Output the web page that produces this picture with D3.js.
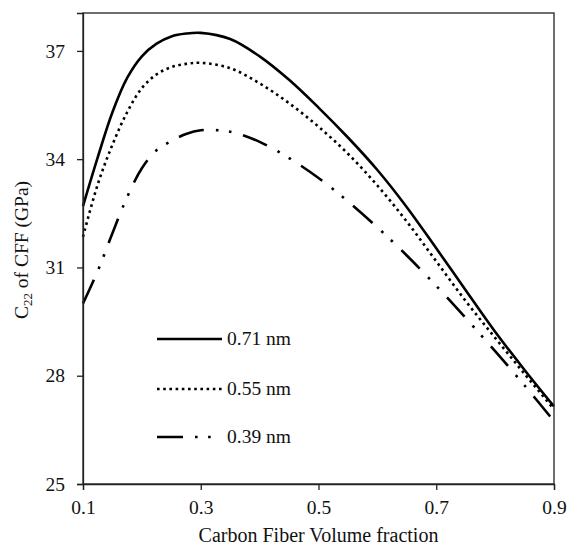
<!DOCTYPE html>
<html><head><meta charset="utf-8">
<script src="https://cdn.jsdelivr.net/npm/d3@7"></script>
<style>body{margin:0;background:#fff}svg{display:block}text{font-family:"Liberation Serif","Times New Roman",serif;fill:#111}</style>
</head><body>
<script>
const fractions = [0.1,0.125,0.15,0.175,0.2,0.225,0.25,0.275,0.3,0.35,0.4,0.45,0.5,0.55,0.6,0.65,0.7,0.75,0.8,0.85,0.9];
const c22_071 = [32.7,34.05,35.3,36.25,36.85,37.2,37.4,37.48,37.5,37.33,36.85,36.2,35.43,34.6,33.7,32.67,31.53,30.37,29.22,28.16,27.15];
const c22_055 = [31.85,33.3,34.4,35.3,35.97,36.35,36.55,36.64,36.67,36.52,36.1,35.55,34.9,34.15,33.27,32.27,31.17,30.07,29.05,28.05,27.07];
const c22_039 = [30.0,30.9,31.95,32.95,33.75,34.25,34.5,34.7,34.8,34.76,34.48,34.03,33.48,32.83,32.11,31.33,30.49,29.6,28.68,27.73,26.74];
const seriesNames = ["0.71 nm","0.55 nm","0.39 nm"];
const xTicks = [0.1,0.3,0.5,0.7,0.9];
const yTicks = [25,28,31,34,37];

const W=569,H=554, m={l:83,t:13,r:15,b:70};
const svg=d3.select("body").append("svg").attr("width",W).attr("height",H);
const x=d3.scaleLinear().domain([0.1,0.9]).range([m.l,W-m.r]);
const y=d3.scaleLinear().domain([25,38.05]).range([H-m.b,m.t]);

const styles=[
 {w:2.6,dash:null},
 {w:2.6,dash:"2.6 3.6"},
 {w:2.6,dash:"26 12 2.6 10.5 2.6 12"}
];
const series=[c22_071,c22_055,c22_039];
const line=d3.line().x((d,i)=>x(fractions[i])).y(d=>y(d)).curve(d3.curveCatmullRom.alpha(0.5));
series.forEach((s,k)=>{
  svg.append("path").datum(s).attr("d",line).attr("fill","none").attr("stroke","#000")
   .attr("stroke-width",styles[k].w).attr("stroke-dasharray",styles[k].dash);
});

// frame
svg.append("rect").attr("x",m.l).attr("y",m.t).attr("width",W-m.r-m.l).attr("height",H-m.b-m.t)
  .attr("fill","none").attr("stroke","#222").attr("stroke-width",1.3);

const xa=svg.append("g").attr("transform",`translate(0,${H-m.b})`)
  .call(d3.axisBottom(x).tickValues(xTicks).tickFormat(d3.format(".1f")).tickSize(6).tickPadding(10));
const ya=svg.append("g").attr("transform",`translate(${m.l},0)`)
  .call(d3.axisLeft(y).tickValues(yTicks).tickFormat(d3.format("d")).tickSize(6).tickPadding(12));
[xa,ya].forEach(a=>{a.select(".domain").attr("stroke","#222").attr("stroke-width",1.3);
 a.selectAll(".tick line").attr("stroke","#222").attr("stroke-width",1.3);
 a.selectAll(".tick text").attr("font-family","Liberation Serif").attr("font-size",19.5).attr("fill","#111");});

svg.append("text").attr("x",(m.l+W-m.r)/2).attr("y",542).attr("text-anchor","middle")
  .attr("font-size",20).text("Carbon Fiber Volume fraction");
const yt=svg.append("text").attr("transform",`translate(28,250) rotate(-90)`).attr("text-anchor","middle").attr("font-size",19.5);
yt.append("tspan").text("C");
yt.append("tspan").attr("font-size",13).attr("dy",4).text("22");
yt.append("tspan").attr("dy",-4).text(" of CFF (GPa)");

// legend
const lg=svg.append("g");
const ly=[339,389,437];
seriesNames.forEach((n,k)=>{
  lg.append("line").attr("x1",157).attr("x2",222).attr("y1",ly[k]).attr("y2",ly[k])
   .attr("stroke","#000").attr("stroke-width",styles[k].w).attr("stroke-dasharray",styles[k].dash);
  lg.append("text").attr("x",227).attr("y",ly[k]+6).attr("font-size",19.5).text(n);
});
</script>
</body></html>
